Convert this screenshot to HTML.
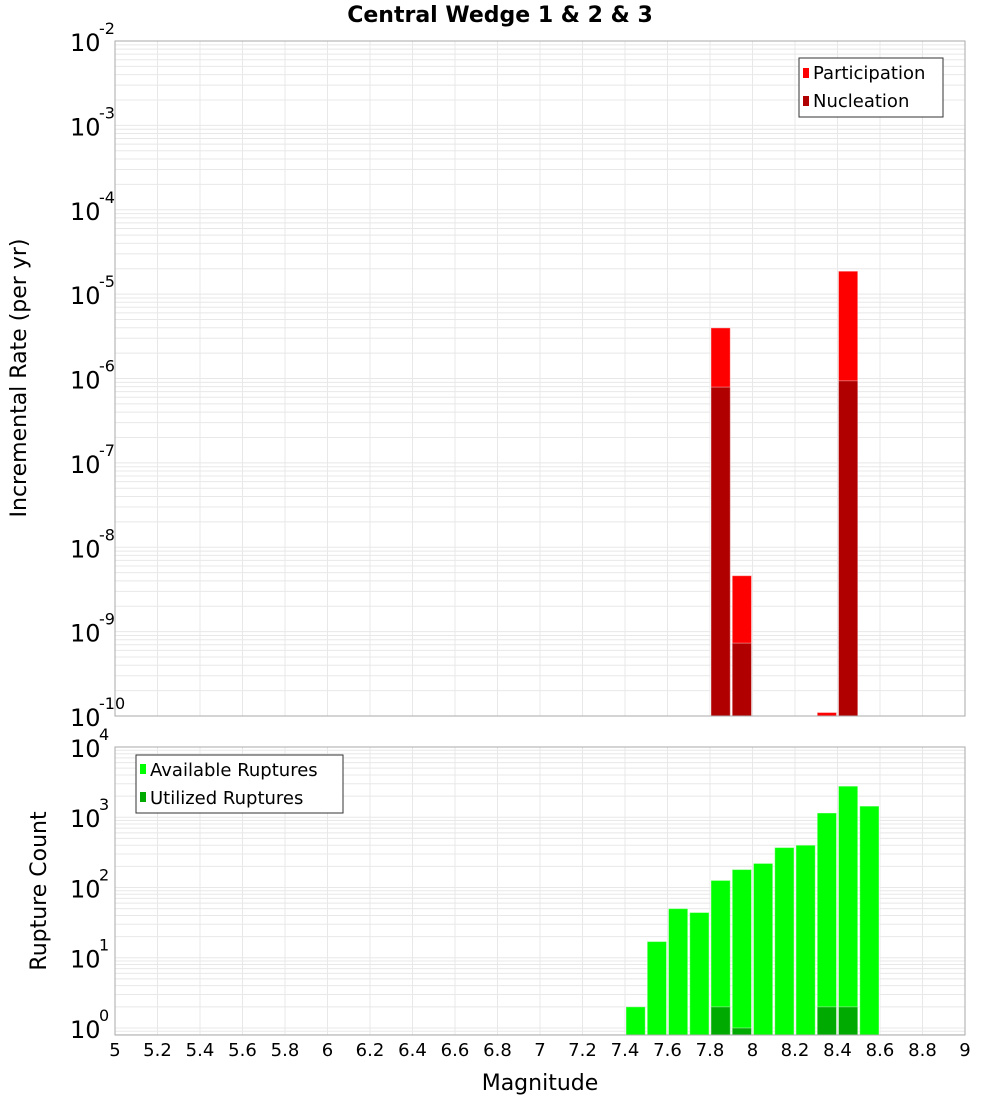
<!DOCTYPE html>
<html><head><meta charset="utf-8"><style>
body{margin:0;background:#fff;width:1000px;height:1100px;overflow:hidden;font-family:"DejaVu Sans","Liberation Sans",sans-serif}
</style></head><body>
<svg id="c" width="1000" height="1100" xmlns="http://www.w3.org/2000/svg" font-family="DejaVu Sans, Liberation Sans, sans-serif">
<text x="500" y="22" text-anchor="middle" font-size="22" font-weight="bold">Central Wedge 1 &amp; 2 &amp; 3</text>
<g id="topPlot"></g>
<g id="botPlot"></g>
<text transform="translate(26,378) rotate(-90)" text-anchor="middle" font-size="22">Incremental Rate (per yr)</text>
<text transform="translate(46,891) rotate(-90)" text-anchor="middle" font-size="22">Rupture Count</text>
<text x="540" y="1090" text-anchor="middle" font-size="22">Magnitude</text>
<g>
<rect x="799" y="58" width="144" height="59" fill="#fff" stroke="#333" stroke-width="1"/>
<rect x="803" y="68" width="6" height="10" fill="#ff0000"/>
<text x="813" y="79" font-size="18">Participation</text>
<rect x="803" y="96" width="6" height="10" fill="#b00000"/>
<text x="813" y="107" font-size="18">Nucleation</text>
</g>
<g>
<rect x="136" y="755" width="207" height="58" fill="#fff" stroke="#333" stroke-width="1"/>
<rect x="140" y="764" width="6" height="10" fill="#00ff00"/>
<text x="150" y="776" font-size="18">Available Ruptures</text>
<rect x="140" y="792" width="6" height="10" fill="#00aa00"/>
<text x="150" y="804" font-size="18">Utilized Ruptures</text>
</g>
</svg>
<script>
const binMags=[7.4,7.5,7.6,7.7,7.8,7.9,8.0,8.1,8.2,8.3,8.4,8.5];
const availableCounts=[2,17,50,44,126,180,220,370,400,1150,2770,1440];
const utilizedCounts=[0,0,0,0,2,1,0,0,0,2,2,0];
const rateMags=[7.8,7.9,8.3,8.4];
const participationRates=[3.98e-6,4.6e-9,1.1e-10,1.87e-5];
const nucleationRates=[7.9e-7,7.3e-10,0,9.4e-7];
const xTicks=[5,5.2,5.4,5.6,5.8,6,6.2,6.4,6.6,6.8,7,7.2,7.4,7.6,7.8,8,8.2,8.4,8.6,8.8,9];
const rateExps=[-10,-9,-8,-7,-6,-5,-4,-3,-2];
const countExps=[0,1,2,3,4];
const NS='http://www.w3.org/2000/svg';
const X0=115,X1=965;
function xs(m){return X0+(m-5)/4*(X1-X0);}
function mk(p,t,a){const e=document.createElementNS(NS,t);for(const k in a)e.setAttribute(k,a[k]);p.appendChild(e);return e;}
function plot(g,ptop,pbot,lmin,lmax,exps){
  const ys=v=>pbot-(Math.log10(v)-lmin)/(lmax-lmin)*(pbot-ptop);
  for(let d=Math.floor(lmin);d<lmax;d++)for(let k=1;k<10;k++){const v=k*Math.pow(10,d);const y=ys(v);if(y<ptop||y>pbot)continue;
    const l=mk(g,'line',{x1:X0,x2:X1,y1:y,y2:y,stroke:'#e8e8e8','stroke-width':1});
    
    }
  xTicks.forEach(m=>{const l=mk(g,'line',{x1:xs(m),x2:xs(m),y1:ptop,y2:pbot,stroke:'#e8e8e8','stroke-width':1});
    
    });
  exps.forEach(e=>{const y=ys(Math.pow(10,e));const t=mk(g,'text',{x:70,y:y+10,'font-size':24});t.textContent='10';
    
    
    const s=mk(g,'text',{x:99,y:y-7,'font-size':16});s.textContent=String(e);
    
    });
  return ys;
}
const gTop=document.getElementById('topPlot'),gBot=document.getElementById('botPlot');
const ysT=plot(gTop,41,716,-10,-2,rateExps);
const ysB=plot(gBot,747,1035,-0.1,4,countExps);
function bar(g,m,v,fill,ys,bottom,name){if(!v||v<=0)return;const y=Math.max(ys(v),0);
  const r=mk(g,'rect',{x:xs(m)+1,y:y,width:xs(m+0.1)-xs(m)-2,height:bottom-y,fill:fill,stroke:'#fff','stroke-opacity':0.4,'stroke-width':1});
  
  }
rateMags.forEach((m,i)=>{bar(gTop,m,participationRates[i],'#ff0000',ysT,716,'participation-bar');bar(gTop,m,nucleationRates[i],'#b00000',ysT,716,'nucleation-bar');});
binMags.forEach((m,i)=>{bar(gBot,m,availableCounts[i],'#00ff00',ysB,1035,'available-bar');bar(gBot,m,utilizedCounts[i],'#00aa00',ysB,1035,'utilized-bar');});
[[41,716],[747,1035]].forEach(([a,b])=>{const r=mk(document.getElementById('c'),'rect',{x:X0,y:a,width:X1-X0,height:b-a,fill:'none',stroke:'#aaa','stroke-width':1});
  
  });
xTicks.forEach(m=>{const t=mk(gBot,'text',{x:xs(m),y:1056,'text-anchor':'middle','font-size':18});t.textContent=String(m);
  
  });
</script>
</body></html>
